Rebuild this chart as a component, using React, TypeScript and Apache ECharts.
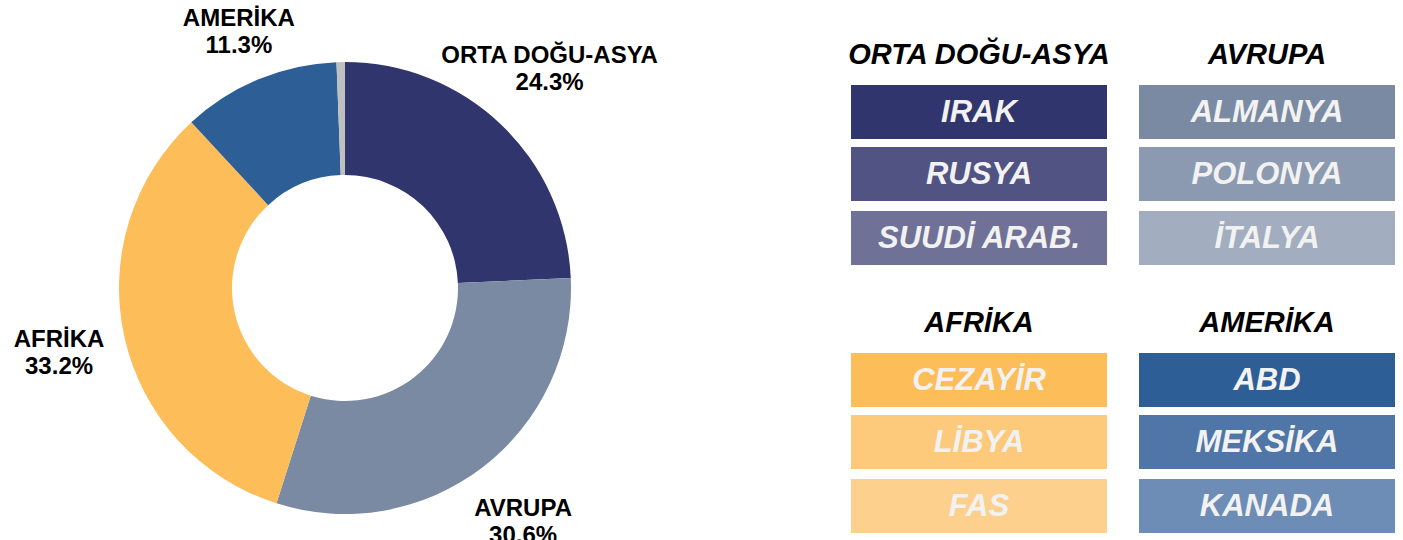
import React, { useEffect, useRef } from "react";
import * as echarts from "echarts";

// ---- Data ----
const regions = ["ORTA DOĞU-ASYA", "AVRUPA", "AFRİKA", "AMERİKA", "DİĞER"];
const shares = [24.3, 30.6, 33.2, 11.3, 0.6];
const regionColors = ["#31356E", "#7B8AA3", "#FDBD59", "#2E5E96", "#BFBFBF"];

const groupTitles = ["ORTA DOĞU-ASYA", "AVRUPA", "AFRİKA", "AMERİKA"];
const groupCountries = [
  ["IRAK", "RUSYA", "SUUDİ ARAB."],
  ["ALMANYA", "POLONYA", "İTALYA"],
  ["CEZAYİR", "LİBYA", "FAS"],
  ["ABD", "MEKSİKA", "KANADA"],
];
const groupColors = [
  ["#31356E", "#515383", "#6F7197"],
  ["#7B8AA3", "#8C9AB1", "#A2ADC0"],
  ["#FDBD59", "#FDC97A", "#FDD08E"],
  ["#2E5E96", "#4F76A7", "#6D8DB6"],
];

// ---- Layout ----
const CX = 345;
const CY = 288;
const colX = [851, 1139];
const boxW = 256;
const boxH = 54;
const titleY = [54, 322];
const rowY = [
  [85, 147, 211],
  [353, 415, 479],
];

function buildGraphics() {
  const els: any[] = [];
  groupTitles.forEach((t, g) => {
    const col = g % 2;
    const band = Math.floor(g / 2);
    els.push({
      type: "text",
      x: colX[col] + boxW / 2,
      y: titleY[band],
      style: {
        text: t,
        fill: "#000",
        font: "italic bold 29px 'Liberation Sans', Arial, sans-serif",
        textAlign: "center",
        textVerticalAlign: "middle",
      },
    });
    groupCountries[g].forEach((c, i) => {
      const y = rowY[band][i];
      els.push({
        type: "rect",
        shape: { x: colX[col], y, width: boxW, height: boxH },
        style: { fill: groupColors[g][i] },
      });
      els.push({
        type: "text",
        x: colX[col] + boxW / 2,
        y: y + boxH / 2 - 1,
        style: {
          text: c,
          fill: "#F2F2F2",
          font: "italic bold 31px 'Liberation Sans', Arial, sans-serif",
          textAlign: "center",
          textVerticalAlign: "middle",
        },
      });
    });
  });
  return els;
}

export default function App() {
  const ref = useRef<HTMLDivElement>(null);
  useEffect(() => {
    document.body.style.margin = "0";
    const chart = echarts.init(ref.current!, undefined, { renderer: "svg" });
    const data = regions.map((r, i) => ({
      name: r,
      value: shares[i],
      itemStyle: { color: regionColors[i] },
    }));
    const labelData = regions.map((r, i) => ({
      name: r,
      value: shares[i],
      label: { show: i < 4 },
    }));
    chart.setOption({
      animation: false,
      backgroundColor: "#fff",
      series: [
        {
          type: "pie",
          center: [CX, CY],
          radius: [113, 226],
          startAngle: 90,
          clockwise: true,
          silent: true,
          label: { show: false },
          labelLine: { show: false },
          itemStyle: { borderWidth: 0 },
          data,
        },
        {
          type: "pie",
          center: [CX, CY],
          radius: [280, 300],
          startAngle: 90,
          clockwise: true,
          silent: true,
          itemStyle: { color: "rgba(0,0,0,0)", borderWidth: 0 },
          labelLine: { show: false },
          label: {
            show: true,
            position: "inside",
            formatter: (p: any) => `${p.name}\n${Number(p.value).toFixed(1)}%`,
            color: "#000",
            fontFamily: "'Liberation Sans', Arial, sans-serif",
            fontWeight: "bold",
            fontSize: 24,
            lineHeight: 27,
            align: "center",
          },
          labelLayout: (p: any) =>
            p.dataIndex === 0 ? { dx: 2, dy: -8 } : p.dataIndex === 3 ? { dx: 6, dy: 14 } : {},
          data: labelData,
        },
      ],
      graphic: buildGraphics(),
    });
    return () => chart.dispose();
  }, []);
  return <div ref={ref} style={{ width: 1403, height: 540 }} />;
}
